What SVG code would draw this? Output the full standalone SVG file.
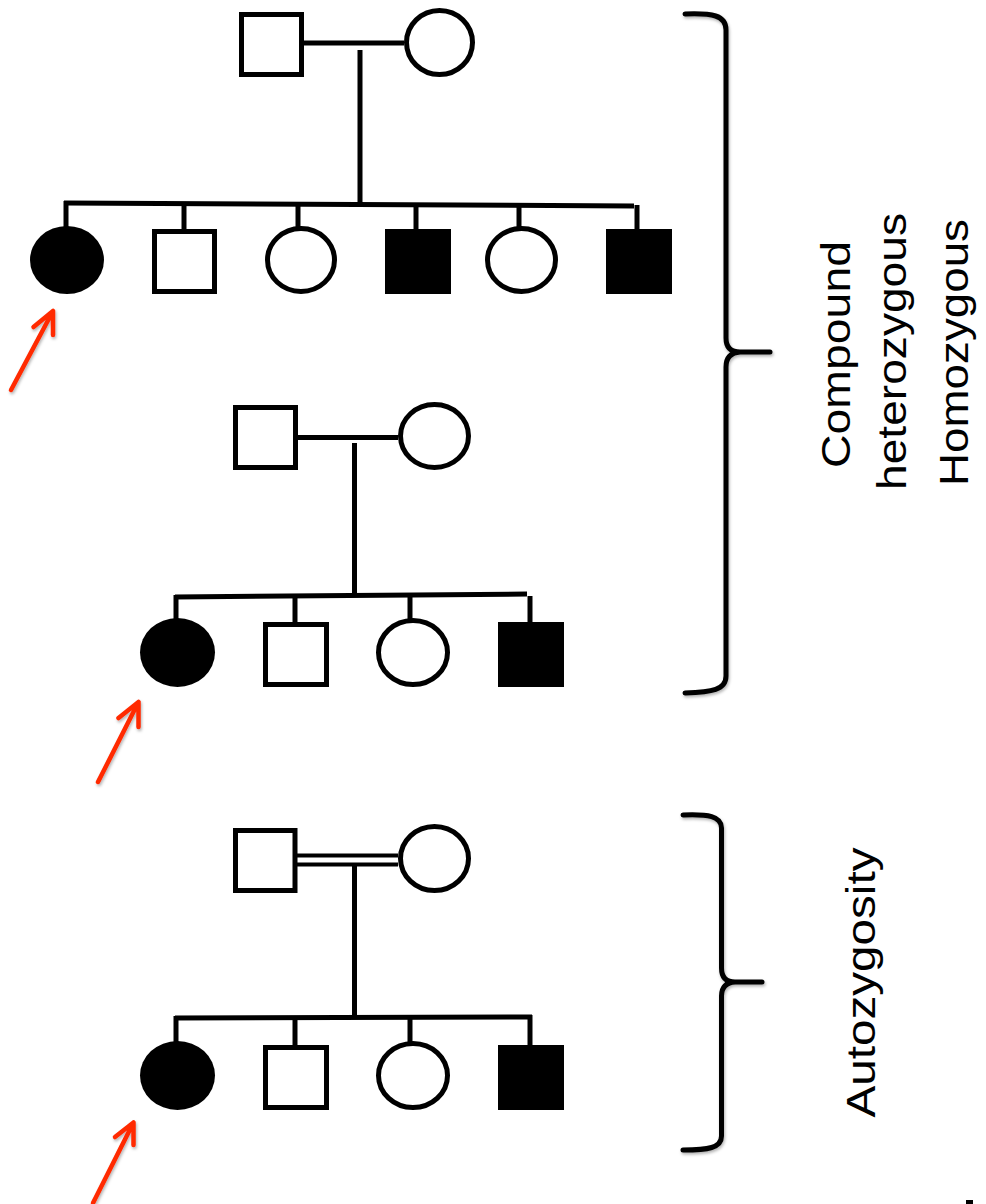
<svg xmlns="http://www.w3.org/2000/svg" width="986" height="1204" viewBox="0 0 986 1204">
<defs>
<style>
.ln{stroke:#000;stroke-width:5;fill:none}
.dl{stroke:#000;stroke-width:4;fill:none}
.open{fill:#fff;stroke:#000;stroke-width:5}
.aff{fill:#000}
.arr{stroke:#FF2A00;stroke-width:4.5;stroke-linecap:round;stroke-linejoin:round;fill:none}
.br{stroke:#000;stroke-width:5;fill:none;stroke-linecap:round}
.lbl{font-family:"Liberation Sans",Arial,Helvetica,sans-serif;font-size:40px;fill:#000}
</style>
<filter id="sh" x="-30%" y="-30%" width="160%" height="160%">
<feDropShadow dx="1" dy="2" stdDeviation="1.5" flood-color="#000" flood-opacity="0.3"/>
</filter>
</defs>
<rect width="986" height="1204" fill="#fff"/>

<g id="connectors">
<!-- top pedigree -->
<line class="ln" x1="304" y1="43" x2="404" y2="43"/>
<line class="ln" x1="360" y1="50" x2="360" y2="204"/>
<line class="ln" x1="64" y1="203" x2="634" y2="206"/>
<line class="ln" x1="66" y1="201" x2="66" y2="228"/>
<line class="ln" x1="184" y1="204" x2="184" y2="231"/>
<line class="ln" x1="298" y1="205" x2="298" y2="228"/>
<line class="ln" x1="416" y1="205" x2="416" y2="231"/>
<line class="ln" x1="519" y1="206" x2="519" y2="228"/>
<line class="ln" x1="637" y1="205" x2="637" y2="230"/>
<!-- middle pedigree -->
<line class="ln" x1="298" y1="437.5" x2="398" y2="437.5"/>
<line class="ln" x1="354.5" y1="443" x2="354.5" y2="596"/>
<line class="ln" x1="175" y1="597" x2="527" y2="594"/>
<line class="ln" x1="176" y1="595" x2="176" y2="620"/>
<line class="ln" x1="295" y1="596" x2="295" y2="624"/>
<line class="ln" x1="410" y1="595" x2="410" y2="620"/>
<line class="ln" x1="530" y1="596" x2="530" y2="624"/>
<!-- bottom pedigree (consanguineous) -->
<line class="dl" x1="297" y1="855.5" x2="398" y2="855.5"/>
<line class="dl" x1="297" y1="864.5" x2="398" y2="864.5"/>
<line class="ln" x1="354.5" y1="864" x2="354.5" y2="1019"/>
<line class="ln" x1="175" y1="1018" x2="532" y2="1017"/>
<line class="ln" x1="176" y1="1016" x2="176" y2="1043"/>
<line class="ln" x1="295" y1="1017" x2="295" y2="1047"/>
<line class="ln" x1="410" y1="1017" x2="410" y2="1043"/>
<line class="ln" x1="530" y1="1015" x2="530" y2="1047"/>
</g>

<!-- top pedigree nodes -->
<g id="p1-father"><rect class="open" x="241.5" y="14.5" width="60" height="60"/></g>
<g id="p1-mother"><ellipse class="open" cx="439.5" cy="42.5" rx="33" ry="32"/></g>
<g id="p1-child1"><ellipse class="aff" cx="67" cy="260" rx="37" ry="34"/></g>
<g id="p1-child2"><rect class="open" x="154.5" y="231.5" width="60" height="60"/></g>
<g id="p1-child3"><ellipse class="open" cx="301" cy="260" rx="33.5" ry="31.5"/></g>
<g id="p1-child4"><rect class="aff" x="385" y="229" width="66" height="65"/></g>
<g id="p1-child5"><ellipse class="open" cx="521.5" cy="260" rx="34" ry="31.5"/></g>
<g id="p1-child6"><rect class="aff" x="606" y="229" width="66" height="65"/></g>

<!-- middle pedigree nodes -->
<g id="p2-father"><rect class="open" x="235.5" y="407.5" width="60" height="60"/></g>
<g id="p2-mother"><ellipse class="open" cx="434.5" cy="436" rx="34" ry="31.5"/></g>
<g id="p2-child1"><ellipse class="aff" cx="177.5" cy="652.5" rx="37.5" ry="34.5"/></g>
<g id="p2-child2"><rect class="open" x="265.5" y="624.5" width="61" height="60"/></g>
<g id="p2-child3"><ellipse class="open" cx="413" cy="652.5" rx="34.5" ry="32"/></g>
<g id="p2-child4"><rect class="aff" x="498" y="622" width="66" height="65"/></g>

<!-- bottom pedigree nodes -->
<g id="p3-father"><rect class="open" x="235.5" y="830.5" width="59.5" height="60"/></g>
<g id="p3-mother"><ellipse class="open" cx="434.5" cy="858.5" rx="34" ry="32"/></g>
<g id="p3-child1"><ellipse class="aff" cx="177.5" cy="1075.5" rx="37.5" ry="34.5"/></g>
<g id="p3-child2"><rect class="open" x="265.5" y="1047.5" width="61" height="60"/></g>
<g id="p3-child3"><ellipse class="open" cx="413" cy="1075.5" rx="34.5" ry="32"/></g>
<g id="p3-child4"><rect class="aff" x="498" y="1045" width="66" height="65"/></g>

<!-- proband arrows -->
<g id="arrow1" filter="url(#sh)"><path class="arr" d="M11,390 L53,311 M33.5,327 L53,311 L53,335"/></g>
<g id="arrow2" filter="url(#sh)"><path class="arr" d="M98,782 L138.5,702 M118.5,718 L138.5,702 L138.5,727"/></g>
<g id="arrow3" filter="url(#sh)"><path class="arr" d="M93,1203 L133.5,1122.5 M115,1137 L133.5,1122.5 L133.5,1145"/></g>

<!-- brackets -->
<g id="bracket1" filter="url(#sh)"><path class="br" d="M685,14 C712,13 726,15 726,30 L726,338 Q726,352 740,352 L770,352 M740,352 Q726,353 726,367 L726,676 C726,690 712,692 685,693"/></g>
<g id="bracket2" filter="url(#sh)"><path class="br" d="M683,815 C708,814 721.5,816 721.5,828 L721.5,968 Q721.5,982 735,982 L762,982 M735,982 Q721.5,983 721.5,996 L721.5,1136 C721.5,1148 708,1150 683,1150"/></g>

<!-- labels -->
<g id="label1">
<text class="lbl" transform="translate(850,354.5) rotate(-90)" text-anchor="middle" textLength="227" lengthAdjust="spacingAndGlyphs">Compound</text>
<text class="lbl" transform="translate(906,351.5) rotate(-90)" text-anchor="middle" textLength="277" lengthAdjust="spacingAndGlyphs">heterozygous</text>
<text class="lbl" transform="translate(968,352.5) rotate(-90)" text-anchor="middle" textLength="267" lengthAdjust="spacingAndGlyphs">Homozygous</text>
</g>
<g id="label2">
<text class="lbl" transform="translate(875,982.5) rotate(-90)" text-anchor="middle" textLength="270" lengthAdjust="spacingAndGlyphs">Autozygosity</text>
</g>

<rect x="966" y="1200" width="7" height="4" fill="#000"/>
</svg>
